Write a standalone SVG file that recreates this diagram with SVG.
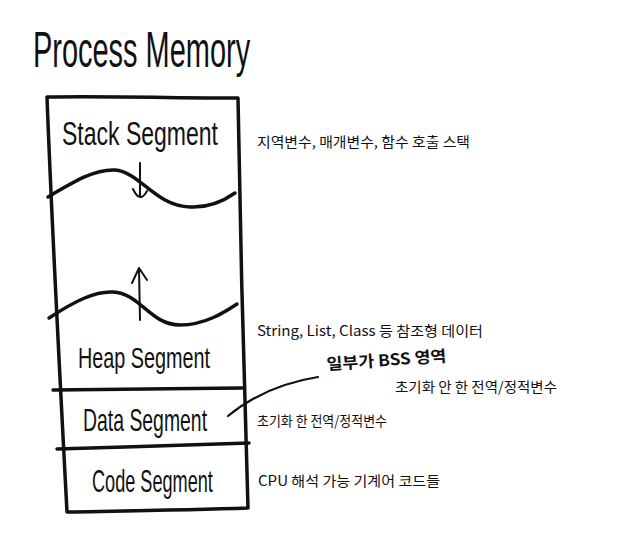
<svg xmlns="http://www.w3.org/2000/svg" width="633" height="542" viewBox="0 0 633 542">
<style>
.hand{font-family:"Liberation Sans","DejaVu Sans",sans-serif;fill:#111;}
.note{font-family:"Noto Sans CJK KR","Noto Sans",sans-serif;font-size:14px;fill:#111;}
.ink{fill:none;stroke:#111;stroke-linecap:round;stroke-linejoin:round;}
</style>
<rect width="633" height="542" fill="#fff"/>
<g id="title">
<text class="hand" x="0" y="0" font-size="50" transform="translate(33,67) scale(0.579,1)">Process Memory</text>
</g>
<g id="memory-box">
<path class="ink" stroke-width="3.5" d="M47,97 C110,96 180,98 238,98 C240,230 244,380 248,508 C190,510 120,511 67,512 C60,380 52,230 47,97 Z"/>
</g>
<g id="stack">
<text class="hand" x="0" y="0" font-size="33" transform="translate(62,145) scale(0.697,1)">Stack Segment</text>
<path class="ink" stroke-width="3.5" d="M48,197 C75,181 95,169 115,170 C140,172 155,206 190,207 C210,208 225,200 235,193"/>
</g>
<g id="heap">
<path class="ink" stroke-width="3.5" d="M49,318 C75,301 95,291 113,292 C140,293 150,325 180,325 C205,325 225,312 237,304"/>
<text class="hand" x="0" y="0" font-size="30" transform="translate(78,368) scale(0.66,1)">Heap Segment</text>
</g>
<g id="data">
<path class="ink" stroke-width="3.5" d="M53,390 C110,389 180,389 242,388"/>
<text class="hand" x="0" y="0" font-size="31" transform="translate(83,431) scale(0.626,1)">Data Segment</text>
</g>
<g id="code">
<path class="ink" stroke-width="3.5" d="M57,449 C120,447 190,445 249,443"/>
<text class="hand" x="0" y="0" font-size="31" transform="translate(92,492) scale(0.585,1)">Code Segment</text>
</g>
<g id="connectors">
<path class="ink" stroke-width="2" d="M140,163 L140,196"/>
<path class="ink" stroke-width="2" d="M133,189 Q140,204 147,191"/>
<path class="ink" stroke-width="2" d="M140,320 L139,269"/>
<path class="ink" stroke-width="2" d="M132,283 L139,268 L147,280"/>
<path class="ink" stroke-width="2.2" d="M228,416 C250,398 280,383 318,377"/>
</g>
<g id="annotations">
<text class="note" x="257" y="147" textLength="213" lengthAdjust="spacingAndGlyphs">지역변수, 매개변수, 함수 호출 스택</text>
<text class="note" x="257" y="336" textLength="226" lengthAdjust="spacingAndGlyphs">String, List, Class 등 참조형 데이터</text>
<text x="327" y="370" font-size="16" font-weight="bold" font-family="Noto Sans CJK KR, sans-serif" fill="#111" textLength="120" lengthAdjust="spacingAndGlyphs" transform="rotate(-4 327 370)">일부가 BSS 영역</text>
<text class="note" x="395" y="392" textLength="162" lengthAdjust="spacingAndGlyphs">초기화 안 한 전역/정적변수</text>
<text class="note" x="257" y="426" textLength="130" lengthAdjust="spacingAndGlyphs">초기화 한 전역/정적변수</text>
<text class="note" x="258" y="486" textLength="182" lengthAdjust="spacingAndGlyphs">CPU 해석 가능 기계어 코드들</text>
</g>
</svg>
